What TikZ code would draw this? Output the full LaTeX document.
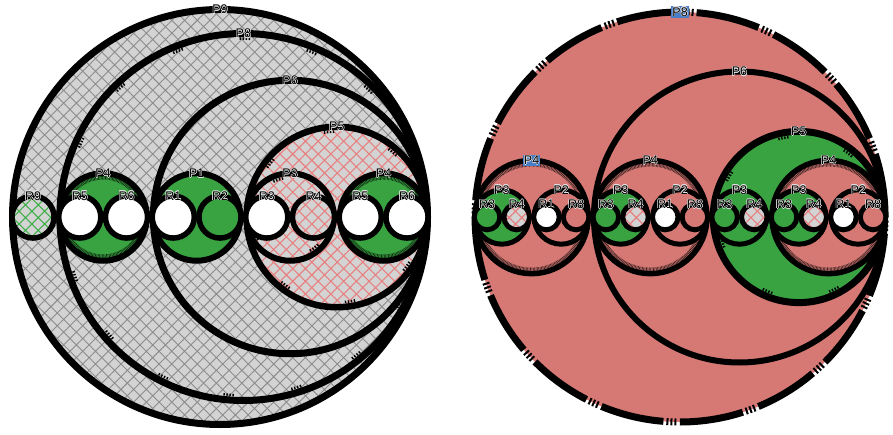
\documentclass[tikz,border=0pt]{standalone}
\usepackage{fontspec}
\setmainfont{Liberation Sans}
\usetikzlibrary{patterns.meta}
\definecolor{cgreen}{RGB}{57,163,66}
\definecolor{cpink}{RGB}{214,121,117}
\definecolor{lgray}{RGB}{211,211,211}
\definecolor{hgray}{RGB}{140,140,140}
\definecolor{hpink}{RGB}{232,128,128}
\definecolor{hgreen}{RGB}{60,175,70}
\definecolor{cblue}{RGB}{72,125,200}
\definecolor{halocol}{RGB}{230,230,230}
\newcommand\hcopy[3]{\rlap{\kern#1\raisebox{#2}{\textcolor{halocol}{#3}}}}
\newcommand\halo[1]{\hcopy{-0.5pt}{0pt}{#1}\hcopy{0.5pt}{0pt}{#1}\hcopy{0pt}{0.5pt}{#1}\hcopy{0pt}{-0.5pt}{#1}\hcopy{0.35pt}{0.35pt}{#1}\hcopy{-0.35pt}{0.35pt}{#1}\hcopy{0.35pt}{-0.35pt}{#1}\hcopy{-0.35pt}{-0.35pt}{#1}#1}
\tikzset{
  x=1pt,y=1pt,
  ghatch/.style={fill=lgray,postaction={pattern={Hatch[angle=45,distance=9pt,line width=0.9pt]},pattern color=hgray}},
  phatch/.style={fill=lgray,postaction={pattern={Hatch[angle=45,distance=9pt,line width=1.1pt]},pattern color=hpink}},
  ghatchg/.style={fill=lgray,postaction={pattern={Hatch[angle=45,distance=9pt,line width=1.1pt]},pattern color=hgreen}},
  fgreen/.style={fill=cgreen},
  fpink/.style={fill=cpink},
  fwhite/.style={fill=white},
  fringe/.style={draw=black,opacity=0.75,line width=3.5pt,dash pattern=on 0.6pt off 0.8pt},
  notch/.style={draw=black,line width=2.6pt,dash pattern=on 1.4pt off 1.6pt on 1.4pt off 1.6pt on 1.4pt off 1.6pt on 1.4pt off 58pt},
  lbl/.style={font=\fontsize{12.5}{13}\selectfont,inner sep=1pt,text=black},
  blbl/.style={lbl,fill=cblue},
  outerdash/.style={dash pattern=on 64pt off 3pt on 2pt off 2pt on 2pt off 2pt on 2pt off 3.5pt}
}
% #1 x, #2 nominal radius, #3 line width, #4 fill style, #5 stroke extras, #6 inner decoration
\newcommand\bubble[6]{%
  \pgfmathsetmacro\rs{#2-#3/2}%
  \pgfmathsetmacro\ri{#2-#3-1.6}%
  \path[#4] (#1,217) circle[radius=\rs];
  \draw[line width=#3pt,#5] (#1,217) circle[radius=\rs];
  \path[#6] (#1,217) circle[radius=\ri];
}
\newcommand\lab[5]{\pgfmathsetmacro\ly{217+#3}\node[#5] (#1) at (#2,\ly) {\halo{#4}};}
\begin{document}
\begin{tikzpicture}
\useasboundingbox (0,0) rectangle (893,434);
% ===== left figure =====
\bubble{220}{211}{7}{ghatch}{}{}
\bubble{243.375}{187}{7}{ghatch}{}{notch}
\bubble{103.125}{46.75}{6}{fgreen}{}{fringe}
\bubble{290.125}{140.25}{7}{ghatch}{}{}
\bubble{196.625}{46.75}{6}{fgreen}{}{}
\bubble{336.875}{93.5}{6.5}{phatch}{}{notch}
\bubble{290.125}{46.75}{6}{phatch}{}{notch}
\bubble{383.625}{46.75}{6}{fgreen}{}{fringe}
\bubble{33}{23.8}{5.5}{ghatchg}{}{}
\bubble{79.75}{23.8}{5.5}{fwhite}{}{}
\bubble{126.5}{23.8}{5.5}{fwhite}{}{}
\bubble{173.25}{23.8}{5.5}{fwhite}{}{}
\bubble{220}{23.8}{5.5}{fgreen}{}{}
\bubble{266.75}{23.8}{5.5}{fwhite}{}{}
\bubble{313.5}{23.8}{5.5}{phatch}{}{}
\bubble{360.25}{23.8}{5.5}{fwhite}{}{}
\bubble{407}{23.8}{5.5}{fwhite}{}{}
% ===== right figure =====
\bubble{680.05}{208.5}{7}{fpink}{outerdash}{}
\bubble{531.55}{59.4}{5.5}{fpink}{}{fringe}
\bubble{501.85}{29.7}{5}{fgreen}{}{notch}
\bubble{561.25}{29.7}{5}{fpink}{}{notch}
\bubble{739.45}{148.5}{6}{fpink}{}{}
\bubble{650.35}{59.4}{5.5}{fpink}{}{fringe}
\bubble{620.65}{29.7}{5}{fgreen}{}{notch}
\bubble{680.05}{29.7}{5}{fpink}{}{notch}
\bubble{798.85}{89.1}{7}{fgreen}{}{notch}
\bubble{739.45}{29.7}{5}{fgreen}{}{notch}
\bubble{828.55}{59.4}{5.5}{fpink}{}{fringe}
\bubble{798.85}{29.7}{5}{fgreen}{}{notch}
\bubble{858.25}{29.7}{5}{fpink}{}{notch}
\bubble{487}{15.3}{5}{fgreen}{}{}
\bubble{516.7}{15.3}{5}{phatch}{}{}
\bubble{546.4}{15.3}{5}{fwhite}{}{}
\bubble{576.1}{15.3}{5}{fpink}{}{}
\bubble{605.8}{15.3}{5}{fgreen}{}{}
\bubble{635.5}{15.3}{5}{phatch}{}{}
\bubble{665.2}{15.3}{5}{fwhite}{}{}
\bubble{694.9}{15.3}{5}{fpink}{}{}
\bubble{724.6}{15.3}{5}{fgreen}{}{}
\bubble{754.3}{15.3}{5}{phatch}{}{}
\bubble{784}{15.3}{5}{fgreen}{}{}
\bubble{813.7}{15.3}{5}{phatch}{}{}
\bubble{843.4}{15.3}{5}{fwhite}{}{}
\bubble{873.1}{15.3}{5}{fpink}{}{}
% ===== labels left =====
\lab{aP9}{220}{207.5}{P9}{lbl}
\lab{aP8}{243.375}{183.5}{P8}{lbl}
\lab{aP4a}{103.125}{43.75}{P4}{lbl}
\lab{aP6}{290.125}{136.75}{P6}{lbl}
\lab{aP1}{196.625}{43.75}{P1}{lbl}
\lab{aP5}{336.875}{90.25}{P5}{lbl}
\lab{aP3}{290.125}{43.75}{P3}{lbl}
\lab{aP4b}{383.625}{43.75}{P4}{lbl}
\lab{aR9}{33}{21}{R9}{lbl}
\lab{aR5a}{79.75}{21}{R5}{lbl}
\lab{aR6a}{126.5}{21}{R6}{lbl}
\lab{aR1}{173.25}{21}{R1}{lbl}
\lab{aR2}{220}{21}{R2}{lbl}
\lab{aR3}{266.75}{21}{R3}{lbl}
\lab{aR4}{313.5}{21}{R4}{lbl}
\lab{aR5b}{360.25}{21}{R5}{lbl}
\lab{aR6b}{407}{21}{R6}{lbl}
% ===== labels right =====
\lab{bP8}{680.05}{205}{P8}{blbl}
\lab{bP4a}{531.55}{56.65}{P4}{blbl}
\lab{bP3a}{501.85}{27.2}{P3}{lbl}
\lab{bP2a}{561.25}{27.2}{P2}{lbl}
\lab{bP6}{739.45}{145.5}{P6}{lbl}
\lab{bP4b}{650.35}{56.65}{P4}{lbl}
\lab{bP3b}{620.65}{27.2}{P3}{lbl}
\lab{bP2b}{680.05}{27.2}{P2}{lbl}
\lab{bP5}{798.85}{85.6}{P5}{lbl}
\lab{bP3c}{739.45}{27.2}{P3}{lbl}
\lab{bP4c}{828.55}{56.65}{P4}{lbl}
\lab{bP3d}{798.85}{27.2}{P3}{lbl}
\lab{bP2c}{858.25}{27.2}{P2}{lbl}
\lab{bR3a}{487}{12.8}{R3}{lbl}
\lab{bR4a}{516.7}{12.8}{R4}{lbl}
\lab{bR1a}{546.4}{12.8}{R1}{lbl}
\lab{bR8a}{576.1}{12.8}{R8}{lbl}
\lab{bR3b}{605.8}{12.8}{R3}{lbl}
\lab{bR4b}{635.5}{12.8}{R4}{lbl}
\lab{bR1b}{665.2}{12.8}{R1}{lbl}
\lab{bR8b}{694.9}{12.8}{R8}{lbl}
\lab{bR3c}{724.6}{12.8}{R3}{lbl}
\lab{bR4c}{754.3}{12.8}{R4}{lbl}
\lab{bR3d}{784}{12.8}{R3}{lbl}
\lab{bR4d}{813.7}{12.8}{R4}{lbl}
\lab{bR1c}{843.4}{12.8}{R1}{lbl}
\lab{bR8c}{873.1}{12.8}{R8}{lbl}
\end{tikzpicture}
\end{document}
